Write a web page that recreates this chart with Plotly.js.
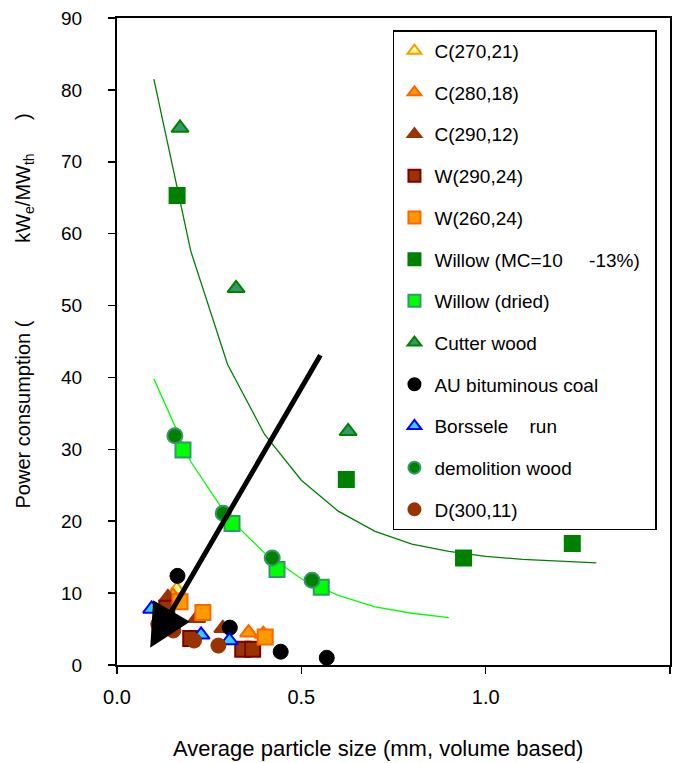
<!DOCTYPE html>
<html>
<head>
<meta charset="utf-8">
<script src="https://cdn.plot.ly/plotly-3.0.1.min.js"></script>
<style>html,body{margin:0;padding:0;background:#fff;}#chart{width:681px;height:763px;}</style>
</head>
<body>
<div id="chart"></div>
<script>
// ---- Data ----
const c270x = [0.162];
const c270y = [10.5];
const c280x = [0.152, 0.357, 0.397];
const c280y = [9.6, 4.5, 4.3];
const c290x = [0.138, 0.216, 0.287];
const c290y = [9.4, 6.5, 5.1];
const w290x = [0.135, 0.200, 0.341, 0.368];
const w290y = [7.9, 3.7, 2.2, 2.2];
const w260x = [0.171, 0.233, 0.402];
const w260y = [8.8, 7.3, 3.9];
const willowX = [0.163, 0.622, 0.940, 1.235];
const willowY = [65.3, 25.8, 14.9, 16.9];
const willowDriedX = [0.179, 0.312, 0.434, 0.554];
const willowDriedY = [29.9, 19.7, 13.3, 10.8];
const cutterX = [0.171, 0.323, 0.627];
const cutterY = [74.7, 52.4, 32.5];
const coalX = [0.164, 0.306, 0.444, 0.569];
const coalY = [12.4, 5.2, 1.85, 1.0];
const borsseleX = [0.094, 0.148, 0.228, 0.305];
const borsseleY = [7.8, 6.0, 4.2, 3.4];
const demolitionX = [0.157, 0.288, 0.421, 0.529];
const demolitionY = [31.9, 21.1, 14.9, 11.8];
const d300x = [0.112, 0.153, 0.209, 0.275];
const d300y = [5.7, 4.8, 3.4, 2.7];
// fitted curves (as drawn)
const fitWetX = [0.1, 0.2, 0.3, 0.4, 0.5, 0.6, 0.7, 0.8, 0.9, 1.0, 1.1, 1.2, 1.3];
const fitWetY = [81.5, 57.6, 41.8, 32.1, 25.7, 21.4, 18.6, 16.8, 15.8, 15.1, 14.7, 14.4, 14.2];
const fitDryX = [0.1, 0.2, 0.3, 0.4, 0.5, 0.6, 0.7, 0.8, 0.9];
const fitDryY = [39.8, 28.3, 20.6, 15.6, 12.0, 9.7, 8.1, 7.2, 6.6];
// arrow (data units)
const arrowFrom = [0.554, 43.3];
const arrowTo = [0.090, 2.4];
const xTicks = [0, 0.5, 1.0, 1.5];
const xTickText = ['0.0', '0.5', '1.0', '1.5'];
const yTicks = [0, 10, 20, 30, 40, 50, 60, 70, 80, 90];

const NB = '\u00a0';
const ZW = '\u200b';
const narrow = '"Liberation Sans Narrow", "Arial Narrow", "Liberation Sans", Arial, sans-serif';
const regular = '"Liberation Sans", Arial, sans-serif';
const MS = 15;

function pts(name, x, y, symbol, fill, line, lw, group) {
  return {
    type: 'scatter', mode: 'markers', name: name, x: x, y: y,
    legendgroup: group,
    marker: {symbol: symbol, size: MS, color: fill, line: {color: line, width: lw}},
    hoverinfo: 'x+y+name'
  };
}

const traces = [
  {type: 'scatter', mode: 'lines', x: fitWetX, y: fitWetY, showlegend: false,
   line: {color: '#008000', width: 1.3}, hoverinfo: 'skip', legendgroup: 'f1'},
  {type: 'scatter', mode: 'lines', x: fitDryX, y: fitDryY, showlegend: false,
   line: {color: '#00ff00', width: 1.3}, hoverinfo: 'skip', legendgroup: 'f2'},
  pts('C(270,21)', c270x, c270y, 'triangle-up', '#ffff99', '#ff9900', 2, 'g1'),
  pts('C(280,18)', c280x, c280y, 'triangle-up', '#ff9900', '#ff6600', 2, 'g2'),
  pts('C(290,12)', c290x, c290y, 'triangle-up', '#993300', '#993300', 2, 'g3'),
  pts('W(290,24)', w290x, w290y, 'square', '#993300', '#800000', 2, 'g4'),
  pts('W(260,24)', w260x, w260y, 'square', '#ff9900', '#ff6600', 2, 'g5'),
  pts('Willow (MC=10' + NB.repeat(5) + '-13%)' + NB.repeat(2), willowX, willowY, 'square', '#008000', '#008000', 2, 'g6'),
  pts('Willow (dried)', willowDriedX, willowDriedY, 'square', '#00ff00', '#339966', 2, 'g7'),
  pts('Cutter wood', cutterX, cutterY, 'triangle-up', '#339966', '#008000', 2, 'g8'),
  pts('AU bituminous coal', coalX, coalY, 'circle', '#000000', '#000000', 1, 'g9'),
  pts('Borssele' + NB.repeat(4) + 'run', borsseleX, borsseleY, 'triangle-up', '#33ccff', '#0000ff', 2, 'g10'),
  pts('demolition wood', demolitionX, demolitionY, 'circle', '#008000', '#339966', 2, 'g11'),
  pts('D(300,11)', d300x, d300y, 'circle', '#993300', '#993300', 1, 'g12')
];

const layout = {
  width: 681, height: 763,
  margin: {l: 117, r: 11, t: 18, b: 98},
  paper_bgcolor: '#ffffff', plot_bgcolor: '#ffffff',
  showlegend: true,
  legend: {
    x: 0.499, y: 0.981, xanchor: 'left', yanchor: 'top',
    bgcolor: '#ffffff', bordercolor: '#000000', borderwidth: 1.5,
    font: {family: narrow, size: 19, color: '#000000'},
    tracegroupgap: 14, itemsizing: 'constant',
    traceorder: 'grouped'
  },
  xaxis: {
    range: [0, 1.5], tickvals: xTicks, ticktext: xTickText,
    showgrid: false, zeroline: false,
    showline: true, linecolor: '#000000', linewidth: 2, mirror: true,
    ticks: 'outside', ticklen: 7, tickwidth: 1.5, tickcolor: '#000000',
    ticklabelstandoff: 6,
    tickfont: {family: narrow, size: 20, color: '#000000'},
    title: {text: 'Average particle size (mm, volume based)' + NB.repeat(5) + ZW, standoff: 34,
            font: {family: narrow, size: 22, color: '#000000'}}
  },
  yaxis: {
    range: [0, 90], tickvals: yTicks,
    showgrid: false, zeroline: false,
    showline: true, linecolor: '#000000', linewidth: 2, mirror: true,
    ticks: 'outside', ticklen: 7, tickwidth: 1.5, tickcolor: '#000000',
    ticklabelstandoff: 22,
    tickfont: {family: regular, size: 19, color: '#000000'},
    title: {text: ZW + NB.repeat(11) + 'Power consumption (' + NB.repeat(14) + 'kW<sub>e</sub>/MW<sub>th</sub>' + NB.repeat(6) + ')',
            standoff: 25, font: {family: narrow, size: 20, color: '#000000'}}
  },
  annotations: [{
    x: arrowTo[0], y: arrowTo[1], ax: arrowFrom[0], ay: arrowFrom[1],
    xref: 'x', yref: 'y', axref: 'x', ayref: 'y',
    text: '', showarrow: true, arrowhead: 2, arrowsize: 1.7, arrowwidth: 5,
    arrowcolor: '#000000'
  }]
};

Plotly.newPlot('chart', traces, layout, {displayModeBar: false, staticPlot: true});
</script>
</body>
</html>
